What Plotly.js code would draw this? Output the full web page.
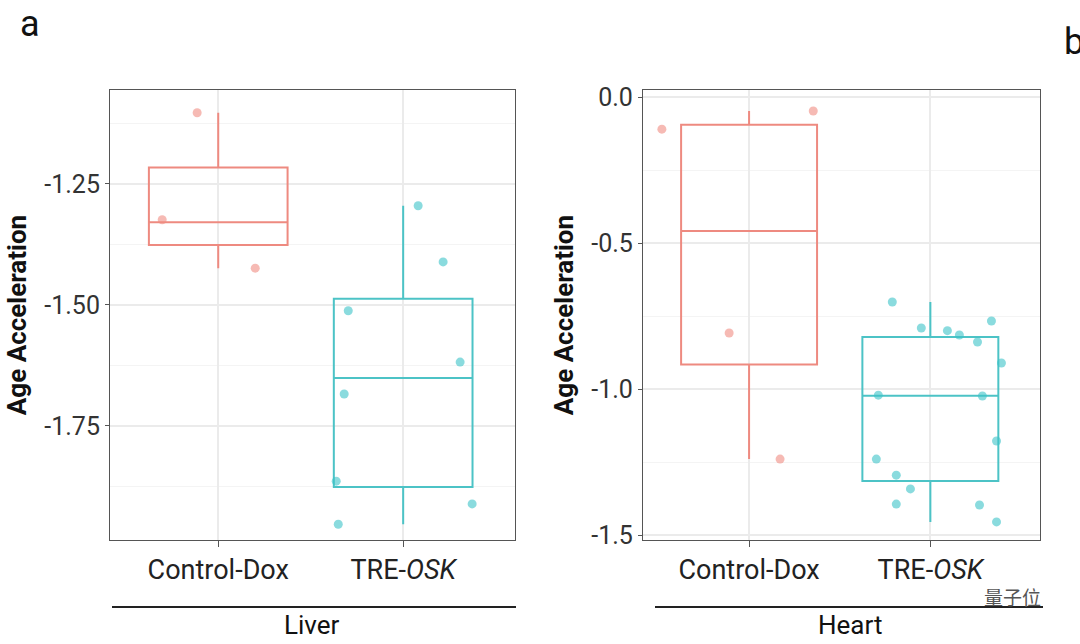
<!DOCTYPE html>
<html>
<head>
<meta charset="utf-8">
<script src="https://cdn.plot.ly/plotly-3.0.1.min.js"></script>
<style>body{margin:0;background:#fff}#chart{width:1080px;height:644px}</style>
</head>
<body>
<div id="chart"></div>
<script>
// Liver (panel a, left)
let liverCtrl = [-1.103, -1.324, -1.424];
let liverCtrlJit = [-0.114, -0.303, 0.2];
let liverOsk = [-1.295, -1.411, -1.512, -1.618, -1.684, -1.864, -1.911, -1.953];
let liverOskJit = [0.081, 0.216, -0.297, 0.308, -0.319, -0.362, 0.373, -0.351];

// Heart (right)
let heartCtrl = [-0.048, -0.110, -0.808, -1.240];
let heartCtrlJit = [0.354, -0.481, -0.11, 0.171];
let heartOsk = [-0.702, -0.791, -0.800, -0.815, -0.767, -0.839, -0.911, -1.021,
                -1.024, -1.178, -1.240, -1.295, -1.342, -1.394, -1.397, -1.455];
let heartOskJit = [-0.21, -0.05, 0.094, 0.16, 0.337, 0.26, 0.392, -0.287,
                   0.287, 0.365, -0.298, -0.188, -0.11, -0.188, 0.271, 0.365];

// box statistics as drawn (R type-7 quartiles): [lower, q1, median, q3, upper]
let liverCtrlStats = [-1.424, -1.376, -1.329, -1.216, -1.103];
let liverOskStats = [-1.953, -1.876, -1.651, -1.487, -1.295];
let heartCtrlStats = [-1.240, -0.916, -0.459, -0.095, -0.048];
let heartOskStats = [-1.455, -1.315, -1.023, -0.822, -0.702];

let categories = ["Control-Dox", "TRE-<i>OSK</i>"];
let red = "#ee8a80", teal = "#4cc3c6";
let redPt = "rgba(240,140,130,0.6)", tealPt = "rgba(60,195,200,0.6)";

function box(s, pos, col, xa, ya) {
  return {type: "box", x: [pos], lowerfence: [s[0]], q1: [s[1]], median: [s[2]],
    q3: [s[3]], upperfence: [s[4]], width: 0.75, boxpoints: false,
    line: {color: col, width: 2}, fillcolor: "rgba(255,255,255,0)", whiskerwidth: 0,
    xaxis: xa, yaxis: ya, showlegend: false, hoverinfo: "skip"};
}
function pts(y, jit, pos, col, xa, ya) {
  return {type: "scatter", mode: "markers", x: jit.map(j => pos + j), y: y,
    marker: {color: col, size: 9}, xaxis: xa, yaxis: ya, showlegend: false};
}

let traces = [
  box(liverCtrlStats, 0, red, "x", "y"), box(liverOskStats, 1, teal, "x", "y"),
  pts(liverCtrl, liverCtrlJit, 0, redPt, "x", "y"), pts(liverOsk, liverOskJit, 1, tealPt, "x", "y"),
  box(heartCtrlStats, 0, red, "x2", "y2"), box(heartOskStats, 1, teal, "x2", "y2"),
  pts(heartCtrl, heartCtrlJit, 0, redPt, "x2", "y2"), pts(heartOsk, heartOskJit, 1, tealPt, "x2", "y2")
];

let ff = "Roboto, sans-serif";
let catFont = {family: ff, size: 27, color: "#222"};
let tickFont = {family: ff, size: 25, color: "#333"};
let labFont = {family: ff, size: 26, color: "#111"};
let xCommon = {range: [-0.585, 1.605], tickvals: [0, 1], ticktext: categories,
  showgrid: true, gridcolor: "#ebebeb", gridwidth: 1.5, zeroline: false,
  showline: true, mirror: true, linecolor: "#555", linewidth: 1.2,
  ticks: "outside", ticklen: 6, tickcolor: "#555", tickfont: catFont};
let yCommon = {showgrid: true, gridcolor: "#ebebeb", gridwidth: 1.5, zeroline: false,
  showline: true, mirror: true, linecolor: "#555", linewidth: 1.2,
  ticks: "outside", ticklen: 4, tickcolor: "#555", tickfont: tickFont,
  title: {text: "<b>Age Acceleration</b>", font: {family: ff, size: 26, color: "#111"}, standoff: 10},
  domain: [0.1615, 0.8602]};

function note(text, x, y, f, extra) {
  return Object.assign({text: text, xref: "paper", yref: "paper", x: x / 1080, y: 1 - y / 644,
    xanchor: "center", yanchor: "middle", showarrow: false, font: f}, extra || {});
}
let big = {family: ff, size: 36, color: "#111"};

let layout = {
  width: 1080, height: 644, margin: {l: 0, r: 0, t: 0, b: 0},
  paper_bgcolor: "#fff", plot_bgcolor: "#fff",
  xaxis: Object.assign({}, xCommon, {domain: [0.1019, 0.4769], anchor: "y"}),
  xaxis2: Object.assign({}, xCommon, {domain: [0.5954, 0.963], anchor: "y2"}),
  yaxis: Object.assign({}, yCommon, {anchor: "x", range: [-1.9855, -1.056],
    tickvals: [-1.75, -1.5, -1.25], ticktext: ["-1.75", "-1.50", "-1.25"],
    minor: {tickvals: [-1.875, -1.625, -1.375, -1.125], showgrid: true, gridcolor: "#f4f4f4", gridwidth: 1}}),
  yaxis2: Object.assign({}, yCommon, {anchor: "x2", range: [-1.517, 0.024],
    tickvals: [-1.5, -1.0, -0.5, 0], ticktext: ["-1.5", "-1.0", "-0.5", "0.0"],
    minor: {tickvals: [-1.25, -0.75, -0.25], showgrid: true, gridcolor: "#f4f4f4", gridwidth: 1}}),
  shapes: [
    {type: "line", xref: "paper", yref: "paper", x0: 112/1080, x1: 516/1080, y0: 1-607/644, y1: 1-607/644, line: {color: "#222", width: 2}},
    {type: "line", xref: "paper", yref: "paper", x0: 655/1080, x1: 1043/1080, y0: 1-607/644, y1: 1-607/644, line: {color: "#222", width: 2}}
  ],
  annotations: [
    note("Liver", 312, 625, labFont),
    note("Heart", 850, 625, labFont),
    note("a", 30, 24, big),
    note("b", 1072, 42, big, {xanchor: "left", x: 1062 / 1080}),
    note("量子位", 1012, 596, {family: "Noto Sans CJK SC", size: 19, color: "#555"})
  ]
};

Plotly.newPlot("chart", traces, layout, {displayModeBar: false});
</script>
</body>
</html>
